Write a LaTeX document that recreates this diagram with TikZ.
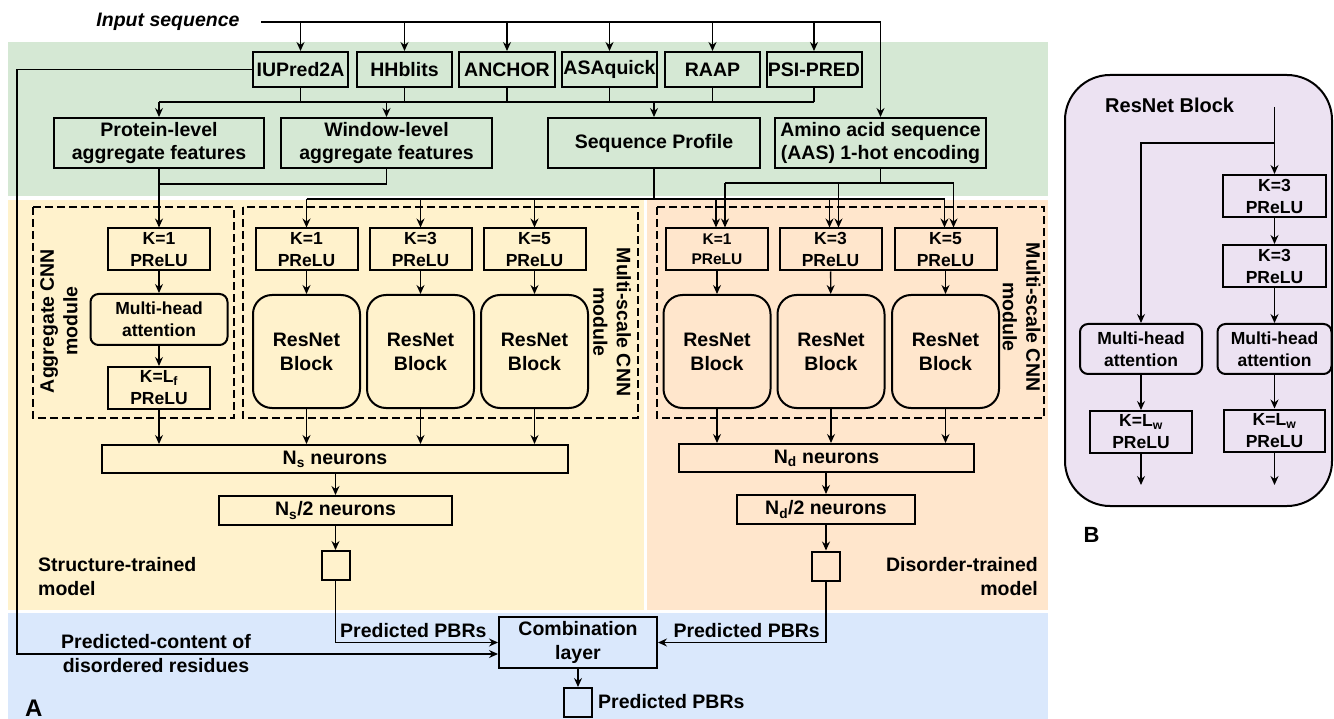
\documentclass[tikz,border=0pt]{standalone}
\usepackage{fontspec}
\setmainfont{Liberation Sans}
\usetikzlibrary{arrows.meta,calc}
\definecolor{cgreen}{HTML}{D5E8D4}
\definecolor{cyellow}{HTML}{FFF2CC}
\definecolor{corange}{HTML}{FFE6CC}
\definecolor{cblue}{HTML}{DAE8FC}
\definecolor{cpurple}{HTML}{ECE2F2}
\begin{document}
\begin{tikzpicture}[x=1pt,y=-1pt,
  txt/.style={font=\fontsize{19.5}{23.5}\selectfont\bfseries},
  ktxt/.style={font=\fontsize{17.5}{22}\selectfont\bfseries},
  bx/.style={draw, line width=2pt, inner sep=0pt, align=center, txt},
  kbx/.style={bx, ktxt, minimum width=102pt, minimum height=42pt},
  rbx/.style={bx, ktxt, rounded corners=8pt},
  resbx/.style={bx, rounded corners=19pt, minimum width=107pt, minimum height=113pt, font=\fontsize{19.5}{24}\selectfont\bfseries},
  sqbx/.style={draw, line width=2pt, inner sep=0pt, minimum width=28pt, minimum height=29pt},
  dbx/.style={draw, line width=2pt, dash pattern=on 8pt off 4pt},
  ln/.style={line width=1.3pt},
  arr/.style={ln, -{Stealth[length=9pt,width=8pt,inset=3pt]}},
  lbl/.style={txt, inner sep=0pt, align=center},
]
\useasboundingbox (0,0) rectangle (1334,719);
% backgrounds
\fill[cgreen] (8,42) rectangle (1048,196);
\fill[cyellow] (8,200) rectangle (644,610);
\fill[corange] (647,200) rectangle (1048,610);
\fill[cblue] (8,613) rectangle (1048,719);
\draw[line width=2pt, fill=cpurple, rounded corners=45pt] (1065,75) rectangle (1332,506);
% dashed modules
\draw[dbx] (33,207) rectangle (234,418);
\draw[dbx] (243,207) rectangle (638,418);
\draw[dbx] (657,207) rectangle (1044,418);

% input
\node[lbl, font=\fontsize{19.5}{23.5}\selectfont\bfseries\itshape] (inlbl) at (168,22) {Input sequence};
\coordinate (in0) at (261,22);

% tools
\node[bx, minimum width=95pt, minimum height=35pt] (iup) at (300.5,69.5) {IUPred2A};
\node[bx, minimum width=95pt, minimum height=35pt] (hhb) at (404.5,69.5) {HHblits};
\node[bx, minimum width=96pt, minimum height=35pt] (anc) at (507,69.5) {ANCHOR};
\node[bx, minimum width=95pt, minimum height=35pt] (asa) at (609.5,69.5) {ASAquick};
\node[bx, minimum width=95pt, minimum height=35pt] (raap) at (712.5,69.5) {RAAP};
\node[bx, minimum width=95pt, minimum height=35pt] (psi) at (814,69.5) {PSI-PRED};

% features
\node[bx, minimum width=210pt, minimum height=50pt] (prot) at (159,143) {Protein-level\\aggregate features};
\node[bx, minimum width=211pt, minimum height=50pt] (win) at (386.5,143) {Window-level\\aggregate features};
\node[bx, minimum width=212pt, minimum height=50pt] (seq) at (654,143) {Sequence Profile};
\node[bx, minimum width=211pt, minimum height=50pt] (aas) at (880.5,143) {Amino acid sequence\\(AAS) 1-hot encoding};

% input connectors
\draw[ln] (in0) -- (aas.north |- in0);
\draw[arr] (aas.north |- in0) -- (aas.north);
\foreach \n in {iup,hhb,anc,asa,raap,psi} \draw[arr] (\n.north |- in0) -- (\n.north);

% bus from tools
\coordinate (bus) at (159,102);
\draw[ln] (bus) -- (psi.south |- bus);
\foreach \n in {iup,hhb,anc,asa,raap,psi} \draw[ln] (\n.south) -- (\n.south |- bus);
\foreach \n in {prot,win,seq} \draw[arr] (\n.north |- bus) -- (\n.north);

% aggregate CNN module
\node[kbx] (ak1) at (159,249.5) {K=1\\PReLU};
\node[rbx, minimum width=137pt, minimum height=51pt] (amh) at (159,319.5) {Multi-head\\attention};
\node[kbx] (alf) at (159,388) {K=L\textsubscript{f}\\PReLU};
\node[lbl, rotate=90] (aggl) at (59,321) {Aggregate CNN\\module};
\draw[arr] (prot.south) -- (ak1.north);
\draw[ln] (win.south) |- ($(prot.south)+(0,15)$);
\draw[arr] (ak1) -- (amh);
\draw[arr] (amh) -- (alf);

% structure multi-scale
\node[kbx] (sk1) at (306.5,249.5) {K=1\\PReLU};
\node[kbx] (sk3) at (420.5,249.5) {K=3\\PReLU};
\node[kbx] (sk5) at (534.5,249.5) {K=5\\PReLU};
\node[resbx] (sr1) at (306.5,351.5) {ResNet\\Block};
\node[resbx] (sr3) at (420.5,351.5) {ResNet\\Block};
\node[resbx] (sr5) at (534.5,351.5) {ResNet\\Block};
\node[lbl, rotate=-90] (msl1) at (612,322) {Multi-scale CNN\\module};
\draw[arr] (sk1) -- (sr1);
\draw[arr] (sk3) -- (sr3);
\draw[arr] (sk5) -- (sr5);

% disorder multi-scale
\node[kbx, font=\fontsize{15.5}{20}\selectfont\bfseries] (dk1) at (717,249.5) {K=1\\PReLU};
\node[kbx] (dk3) at (830.5,249.5) {K=3\\PReLU};
\node[kbx] (dk5) at (945.5,249.5) {K=5\\PReLU};
\node[resbx] (dr1) at (717,351.5) {ResNet\\Block};
\node[resbx] (dr3) at (831,351.5) {ResNet\\Block};
\node[resbx] (dr5) at (945.5,351.5) {ResNet\\Block};
\node[lbl, rotate=-90] (msl2) at (1021.5,317) {Multi-scale CNN\\module};
\draw[arr] (dk1) -- (dr1);
\draw[arr] (dk3) -- (dr3);
\draw[arr] (dk5) -- (dr5);

% sequence profile bus
\path (seq.south) ++(0,30) coordinate (sbus);
\draw[ln] (seq.south) -- (sbus);
\draw[ln] (sk1.north |- sbus) -- ($(dk5.north |- sbus)+(-1,0)$);
\foreach \n in {sk1,sk3,sk5} \draw[arr] (\n.north |- sbus) -- (\n.north);
\foreach \n in {dk1,dk3,dk5} \draw[arr] ($(\n.north |- sbus)+(-1,0)$) -- ($(\n.north)+(-1,0)$);
% AAS bus
\path (aas.south) ++(0,14) coordinate (abus);
\draw[ln] (aas.south) -- (abus);
\draw[ln] ($(dk1.north |- abus)+(8,0)$) -- ($(dk5.north |- abus)+(8,0)$);
\foreach \n in {dk1,dk3,dk5} \draw[arr] ($(\n.north |- abus)+(8,0)$) -- ($(\n.north)+(8,0)$);

% structure dense
\node[bx, minimum width=466pt, minimum height=28pt] (ns) at (335,459) {N\textsubscript{s} neurons};
\node[bx, minimum width=233pt, minimum height=29pt] (ns2) at (335.5,510.5) {N\textsubscript{s}/2 neurons};
\node[sqbx] (sq1) at (335.5,565.5) {};
\foreach \n in {alf,sr1,sr3,sr5} \draw[arr] (\n.south) -- (\n.south |- ns.north);
\draw[arr] (ns2.north |- ns.south) -- (ns2.north);
\draw[arr] (ns2.south) -- (sq1.north);
\node[lbl, align=left, anchor=west] (stl) at (38,576.5) {Structure-trained\\model};

% disorder dense
\node[bx, minimum width=295pt, minimum height=28pt] (nd) at (826.5,458) {N\textsubscript{d} neurons};
\node[bx, minimum width=178pt, minimum height=29pt] (nd2) at (826,509.5) {N\textsubscript{d}/2 neurons};
\node[sqbx] (sq2) at (826,566) {};
\foreach \n in {dr1,dr3,dr5} \draw[arr] (\n.south) -- (\n.south |- nd.north);
\draw[arr] (nd2.north |- nd.south) -- (nd2.north);
\draw[arr] (nd2.south) -- (sq2.north);
\node[lbl, align=right, anchor=east] (dtl) at (1038,576.5) {Disorder-trained\\model};

% combination
\node[bx, minimum width=158pt, minimum height=51pt] (comb) at (578,642.5) {Combination\\layer};
\draw[arr] (sq1.south) |- (comb.west);
\draw[arr] (sq2.south) |- (comb.east);
\node[lbl, anchor=base west] (pp1) at (340,637) {Predicted PBRs};
\node[lbl, anchor=base east] (pp2) at (820,637) {Predicted PBRs};
\coordinate (cl) at (17,654);
\draw[arr] (iup.west) -| (cl) -- ($(comb.west)+(0,11.5)$);
\node[lbl] (pcl) at (156,653.5) {Predicted-content of\\disordered residues};
\node[sqbx] (sq3) at (578,702.5) {};
\draw[arr] (comb.south) -- (sq3.north);
\node[lbl, anchor=west] (pp3) at (598,702) {Predicted PBRs};
\node[font=\fontsize{24}{24}\selectfont\bfseries, inner sep=0pt, anchor=base west] (la) at (25,716) {A};

% panel B
\node[font=\fontsize{20}{24}\selectfont\bfseries, inner sep=0pt, anchor=west] (rbl) at (1105,105) {ResNet Block};
\coordinate (pin) at (1274.5,107);
\coordinate (pbr) at (1274.5,143);
\node[kbx, minimum width=103pt] (pk1) at (1274.5,196) {K=3\\PReLU};
\node[kbx, minimum width=103pt] (pk2) at (1274.5,266) {K=3\\PReLU};
\node[rbx, minimum width=122pt, minimum height=50pt] (pmhL) at (1141,349) {Multi-head\\attention};
\node[rbx, minimum width=114pt, minimum height=50pt] (pmhR) at (1274.5,349) {Multi-head\\attention};
\node[kbx, minimum width=102pt] (plwL) at (1141,432) {K=L\textsubscript{w}\\PReLU};
\node[kbx, minimum width=101pt] (plwR) at (1274.5,430.5) {K=L\textsubscript{w}\\PReLU};
\draw[arr] (pin) -- (pk1.north);
\draw[arr] (pbr) -| (pmhL.north);
\draw[arr] (pk1) -- (pk2);
\draw[arr] (pk2) -- (pmhR);
\draw[arr] (pmhL) -- (plwL);
\draw[arr] (pmhR) -- (plwR);
\coordinate (poL) at (1141,485);
\coordinate (poR) at (1274.5,485);
\draw[arr] (plwL.south) -- (poL);
\draw[arr] (plwR.south) -- (poR);
\node[font=\fontsize{22}{22}\selectfont\bfseries, inner sep=0pt] (lb) at (1091.5,534.5) {B};
\end{tikzpicture}
\end{document}
